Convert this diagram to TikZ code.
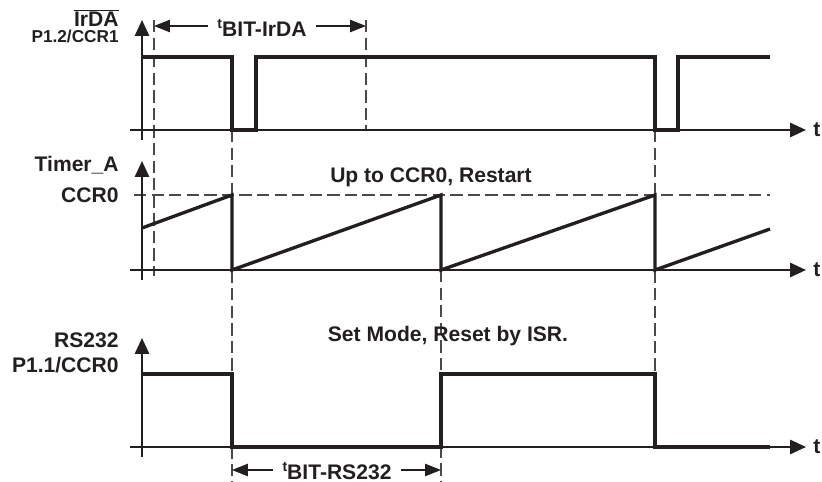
\documentclass[tikz,border=0pt]{standalone}
\usepackage{fontspec}
\setmainfont{Liberation Sans}
\usetikzlibrary{arrows.meta, positioning}
\definecolor{trace}{HTML}{231F20}
\definecolor{guide-line}{HTML}{4A4A4A}
\newcommand{\sigfont}{\bfseries\fontsize{12}{13.5}\selectfont}
\newcommand{\pinfont}{\bfseries\fontsize{9.8}{11}\selectfont}
\newcommand{\tsmall}{\bfseries\fontsize{8}{9}\selectfont}
\tikzset{
  axisline/.style={draw=trace, line width=1.3pt, -{Triangle[length=9pt, width=8pt]}},
  wave/.style={draw=trace, line width=1.9pt, line join=miter},
  guide/.style={draw=guide-line, line width=0.6pt, dash pattern=on 7pt off 3pt},
  sig/.style={font=\sigfont, text=trace, anchor=base east, inner sep=0pt},
  note/.style={font=\sigfont, text=trace, anchor=base, inner sep=0pt},
  tlbl/.style={font=\sigfont, text=trace, anchor=west, inner sep=0pt},
  spanlbl/.style={font=\sigfont, text=trace, anchor=base, inner ysep=0pt, inner xsep=5pt},
  span/.style={draw=trace, line width=0.6pt, -{Triangle[length=9pt, width=7pt]}}
}

\begin{document}
\begin{tikzpicture}[x=0.02cm, y=-0.02cm]
  \useasboundingbox (0,0) rectangle (822,482);

  % ---- Dashed guides ------------------------------------------------------
  \draw[guide] (154,20) -- (154,276);
  \draw[guide] (366,20) -- (366,130);
  \draw[guide] (232,130) -- (232,482);
  \draw[guide] (441,270) -- (441,482);
  \draw[guide] (655,130) -- (655,374);
  \draw[guide] (134,195) -- (770,195);

  % ---- Axes: baseline / arrow top, one per trace --------------------------
  \foreach \base/\top in {130/20, 270/161, 447/338} {
    \draw[axisline] (142,\base+10) -- (142,\top);
    \draw[axisline] (130,\base) -- (806,\base);
    \node[tlbl] (t\base) at (813,\base) {t};
  }

  % ---- Traces -------------------------------------------------------------
  % IrDA output: short low pulse at each bit start
  \draw[wave] (142,57) -- (232,57) -- (232,130) -- (256,130) -- (256,57)
    -- (655,57) -- (655,130) -- (678,130) -- (678,57) -- (770,57);
  % Timer_A counting up to CCR0, then restart
  \draw[wave] (142,228) -- (232,195) -- (232,270) -- (441,195) -- (441,270)
    -- (655,195) -- (655,270) -- (770,229);
  % RS232 input
  \draw[wave] (142,374) -- (232,374) -- (232,447) -- (441,447) -- (441,374)
    -- (655,374) -- (655,447) -- (770,447);

  % ---- Signal names, left of the axes -------------------------------------
  \node[sig] (irda) at (119,27) {$\overline{\mbox{IrDA}}$};
  \node[sig, font=\pinfont] (p12) at (119,43) {P1.2/CCR1};
  \node[sig] (timer) at (119,172) {Timer\_A};
  \node[sig] (ccr0) at (119,203) {CCR0};
  \node[sig] (rs232) at (119,348) {RS232};
  \node[sig] (p11) at (119,373) {P1.1/CCR0};

  % ---- Mode notes ---------------------------------------------------------
  \node[note] (upmode) at (431,183) {Up to CCR0, Restart};
  \node[note] (setmode) at (448,342) {Set Mode, Reset by ISR.};

  % ---- Bit periods --------------------------------------------------------
  \coordinate (irdaL) at (154,26);
  \coordinate (irdaR) at (366,26);
  \node[spanlbl] (tirda) at (262,37) {\raisebox{5pt}{\tsmall t}BIT-IrDA};
  \draw[span] (tirda.west |- irdaL) -- (irdaL);
  \draw[span] (tirda.east |- irdaR) -- (irdaR);

  \coordinate (rsL) at (232,470);
  \coordinate (rsR) at (441,470);
  \node[spanlbl] (trs) at (337,480) {\raisebox{5pt}{\tsmall t}BIT-RS232};
  \draw[span] (trs.west |- rsL) -- (rsL);
  \draw[span] (trs.east |- rsR) -- (rsR);

\end{tikzpicture}
\end{document}
